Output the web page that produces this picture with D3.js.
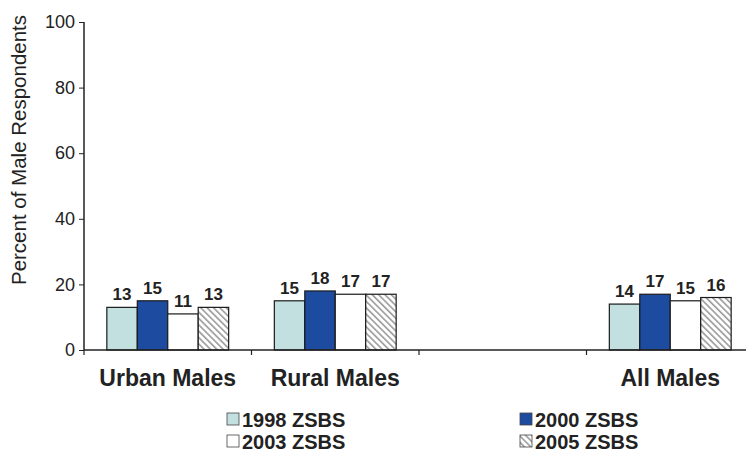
<!DOCTYPE html>
<html>
<head>
<meta charset="utf-8">
<script src="https://cdn.jsdelivr.net/npm/d3@7"></script>
<style>
  body { margin: 0; background: #fff; }
  text { font-family: "Liberation Sans", Arial, sans-serif; fill: #222; }
</style>
</head>
<body>
<svg id="chart" width="746" height="452"></svg>
<script>
// chart data
var categories = ["Urban Males", "Rural Males", "", "All Males"];
var seriesNames = ["1998 ZSBS", "2000 ZSBS", "2003 ZSBS", "2005 ZSBS"];
var v1998 = [13, 15, null, 14];
var v2000 = [15, 18, null, 17];
var v2003 = [11, 17, null, 15];
var v2005 = [13, 17, null, 16];
var yTicks = [0, 20, 40, 60, 80, 100];

(function () {
    var seriesValues = [v1998, v2000, v2003, v2005];
    var fills = ["#c2e0df", "#1d4b9f", "#ffffff", "url(#hatch)"];

    var svg = d3.select("#chart");

    var defs = svg.append("defs");
    var pat = defs.append("pattern")
        .attr("id", "hatch")
        .attr("patternUnits", "userSpaceOnUse")
        .attr("width", 4.5).attr("height", 4.5)
        .attr("patternTransform", "rotate(-45)");
    pat.append("rect").attr("width", 4.5).attr("height", 4.5).attr("fill", "#fff");
    pat.append("rect").attr("x", 0).attr("width", 1.6).attr("height", 4.5).attr("fill", "#9a9a9a");

    var mLeft = 84, mRight = 754, mTop = 22, mBottom = 350;

    var x = d3.scaleBand().domain(d3.range(categories.length)).range([mLeft, mRight]);
    var xs = d3.scaleBand().domain(d3.range(seriesNames.length))
        .range([0, x.bandwidth()]).paddingInner(0).paddingOuter(0.75);
    var y = d3.scaleLinear().domain([0, 100]).range([mBottom, mTop]);

    // bars
    for (var s = 0; s < seriesValues.length; s++) {
        var vals = seriesValues[s];
        for (var i = 0; i < vals.length; i++) {
            if (vals[i] == null) continue;
            var bx = x(i) + xs(s);
            svg.append("rect")
                .attr("x", bx)
                .attr("y", y(vals[i]))
                .attr("width", xs.bandwidth())
                .attr("height", y(0) - y(vals[i]))
                .attr("fill", fills[s])
                .attr("stroke", "#1a1a1a")
                .attr("stroke-width", 1.2);
            svg.append("text")
                .attr("x", bx + xs.bandwidth() / 2)
                .attr("y", y(vals[i]) - 7)
                .attr("text-anchor", "middle")
                .style("font-size", "17px")
                .style("font-weight", "bold")
                .text(vals[i]);
        }
    }

    // y axis
    var yAxis = d3.axisLeft(y).tickValues(yTicks).tickSize(5).tickPadding(4);
    var gy = svg.append("g").attr("transform", "translate(" + mLeft + ",0)").call(yAxis);
    gy.select(".domain").attr("stroke", "#222").attr("stroke-width", 1.5).attr("d", "M0," + mTop + "V" + mBottom);
    gy.selectAll(".tick line").attr("stroke", "#222");
    gy.selectAll(".tick text").style("font-size", "18px")
        .style("font-family", "Liberation Sans, Arial, sans-serif").attr("fill", "#222");

    // x axis
    var gx = svg.append("g");
    gx.append("line").attr("x1", mLeft).attr("x2", mRight).attr("y1", mBottom).attr("y2", mBottom)
        .attr("stroke", "#222").attr("stroke-width", 1.5);
    var bounds = d3.range(categories.length + 1).map(function (k) {
        return k < categories.length ? x(k) : mRight;
    });
    gx.selectAll(".xt").data(bounds).enter().append("line")
        .attr("x1", function (d) { return d; }).attr("x2", function (d) { return d; })
        .attr("y1", mBottom).attr("y2", mBottom + 5)
        .attr("stroke", "#222").attr("stroke-width", 1.2);
    gx.selectAll(".xl").data(categories).enter().append("text")
        .attr("x", function (d, i) { return x(i) + x.bandwidth() / 2; })
        .attr("y", 386)
        .attr("text-anchor", "middle")
        .style("font-size", "23px")
        .style("font-weight", "bold")
        .text(function (d) { return d; });

    // y label
    svg.append("text")
        .attr("transform", "translate(26,150) rotate(-90)")
        .attr("text-anchor", "middle")
        .style("font-size", "20.5px")
        .text("Percent of Male Respondents");

    // legend
    var legPos = [[227, 420], [520, 420], [227, 442], [520, 442]];
    for (var k = 0; k < seriesNames.length; k++) {
        var p = legPos[k];
        svg.append("rect")
            .attr("x", p[0]).attr("y", p[1] - 7)
            .attr("width", 12).attr("height", 12)
            .attr("fill", fills[k])
            .attr("stroke", "#444").attr("stroke-width", 0.8);
        svg.append("text")
            .attr("x", p[0] + 15).attr("y", p[1] + 7)
            .style("font-size", "20px")
            .style("font-weight", "bold")
            .text(seriesNames[k]);
    }
})();
</script>
</body>
</html>
